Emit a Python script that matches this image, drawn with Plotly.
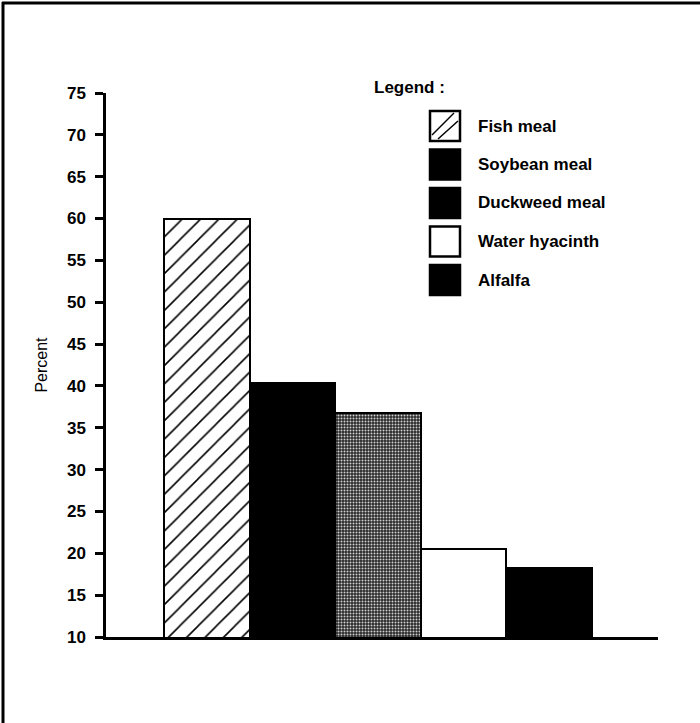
import plotly.graph_objects as go

# ---- data ----
feeds = ["Fish meal", "Soybean meal", "Duckweed meal", "Water hyacinth", "Alfalfa"]
percent = [60, 40.3, 36.8, 20.5, 18.2]
y_ticks = list(range(10, 80, 5))

# ---- styles ----
FONT = "Liberation Sans, Arial, sans-serif"
styles = [
    dict(color="white", pattern=dict(shape="/", fgcolor="black", bgcolor="white", size=13, solidity=0.12, fillmode="replace")),
    dict(color="black"),
    dict(color="#3a3a3a", pattern=dict(shape=".", fgcolor="#d0d0d0", bgcolor="#2a2a2a", size=3, solidity=0.35, fillmode="replace")),
    dict(color="white"),
    dict(color="black"),
]

fig = go.Figure()
for i, (name, val) in enumerate(zip(feeds, percent)):
    mk = dict(styles[i])
    mk["line"] = dict(color="black", width=2)
    fig.add_trace(go.Bar(x=[i], y=[val], width=1, name=name, marker=mk, showlegend=False))

W, H = 700, 723
L, R, T, B = 106, 42, 93, 86
pw, ph = W - L - R, H - T - B

def px(x):
    return (x - L) / pw

def py(y):
    return (H - B - y) / ph

shapes = []
annotations = []
# outer frame (top and left edges only)
shapes.append(dict(type="line", xref="paper", yref="paper",
                   x0=px(2), x1=px(702), y0=py(3), y1=py(3),
                   line=dict(color="black", width=3)))
shapes.append(dict(type="line", xref="paper", yref="paper",
                   x0=px(3), x1=px(3), y0=py(2), y1=py(725),
                   line=dict(color="black", width=3)))

# manual legend
annotations.append(dict(xref="paper", yref="paper", x=px(372), y=py(88),
                        xanchor="left", yanchor="middle", showarrow=False,
                        text="Legend :", font=dict(family=FONT, size=17, color="black", weight="bold")))
box_fill = ["white", "black", "black", "white", "black"]
top0, pitch, bs = 111, 38.5, 30
bx0 = 430
for i, name in enumerate(feeds):
    t = top0 + i * pitch
    shapes.append(dict(type="rect", xref="paper", yref="paper",
                       x0=px(bx0), x1=px(bx0 + bs), y0=py(t + bs), y1=py(t),
                       line=dict(color="black", width=2.5), fillcolor=box_fill[i]))
    annotations.append(dict(xref="paper", yref="paper", x=px(476), y=py(t + bs / 2),
                            xanchor="left", yanchor="middle", showarrow=False,
                            text=name, font=dict(family=FONT, size=17, color="black", weight="bold")))
# hatch lines in the fish meal legend box
t = top0
for (xa, ya, xb, yb) in [(bx0 + 2, t + bs - 6, bx0 + bs - 6, t + 2),
                         (bx0 + 8, t + bs - 2, bx0 + bs - 2, t + 10)]:
    shapes.append(dict(type="line", xref="paper", yref="paper",
                       x0=px(xa), y0=py(ya), x1=px(xb), y1=py(yb),
                       line=dict(color="black", width=1.5)))

fig.update_layout(
    width=W, height=H,
    margin=dict(l=L, r=R, t=T, b=B, pad=0),
    paper_bgcolor="white", plot_bgcolor="white",
    shapes=shapes, annotations=annotations,
    bargap=0, barmode="overlay",
    xaxis=dict(range=[-1.178, 5.271], showgrid=False, zeroline=False,
               showticklabels=False, ticks="", showline=True,
               linecolor="black", linewidth=2.5),
    yaxis=dict(range=[10, 75], tickvals=y_ticks, showgrid=False, zeroline=False,
               showline=True, linecolor="black", linewidth=2.5,
               ticks="outside", ticklen=8, tickwidth=2.5, tickcolor="black",
               ticklabelstandoff=6,
               tickfont=dict(family=FONT, size=17, color="black", weight="bold"),
               title=dict(text="Percent", standoff=16,
                          font=dict(family=FONT, size=16, color="black"))),
    font=dict(family=FONT, color="black"),
)

fig.write_html("out.html", config={"displayModeBar": False},
               post_script="document.body.style.margin='0px';")
